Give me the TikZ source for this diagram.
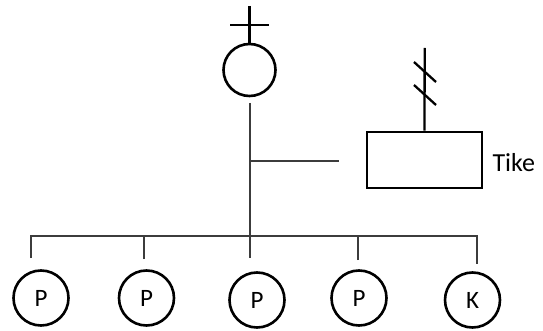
\documentclass[tikz,border=0pt]{standalone}
\usepackage{fontspec}
\setmainfont{Carlito}
\usetikzlibrary{positioning}
\definecolor{LineGray}{HTML}{3C3C3C}

\begin{document}
\begin{tikzpicture}[x=1pt, y=-1pt,
                    person/.style={draw, circle, line width=2.6pt, minimum size=55pt,
                                   inner sep=0pt, font=\fontsize{25}{25}\selectfont},
                    house/.style={draw, line width=2.6pt, minimum width=115pt,
                                  minimum height=56pt, inner sep=0pt},
                    mark line/.style={draw=black, line width=2.3pt},
                    tree line/.style={draw=LineGray, line width=2pt}]
  \useasboundingbox (0,0) rectangle (543,331);
  % mother with the cross on top
  \node[person, minimum size=52pt] (mother) at (249.5,70) {};
  \coordinate (crosstop) at (249.5,6);
  \coordinate (crossl) at (230,25);
  \coordinate (crossr) at (269,25);
  \draw[mark line] (crosstop) -- (mother.north);
  \draw[mark line] (crossl) -- (crossr);
  % household box with its slashed line
  \node[house] (tikebox) at (424.5,160) {};
  \node[right=9pt of tikebox.east, yshift=-3pt, inner sep=0pt,
        font=\fontsize{26}{26}\selectfont] (tikelbl) {Tike};
  \coordinate (boxtop) at (424.7,48);
  \draw[mark line] (boxtop) -- (tikebox.north);
  \coordinate (s1a) at (414,62);  \coordinate (s1b) at (436,82);
  \coordinate (s2a) at (414,85);  \coordinate (s2b) at (436,105);
  \draw[mark line] (s1a) -- (s1b);
  \draw[mark line] (s2a) -- (s2b);
  % children
  \node[person] (kid1) at (41,298) {P};
  \node[person] (kid2) at (146.5,298) {P};
  \node[person] (kid3) at (257,300) {P};
  \node[person] (kid4) at (359,298) {P};
  \node[person] (kid5) at (472.5,300) {K};
  % stem, side branch and sibling bar
  \coordinate (stemtop) at (249.5,103);
  \coordinate (stembot) at (249.5,258);
  \coordinate (side) at (249.5,161);
  \coordinate (sideend) at (339,161);
  \coordinate (bar) at (249.5,236);
  \draw[tree line] (stemtop) -- (stembot);
  \draw[tree line] (side) -- (sideend);
  \coordinate (d1) at (30.6,258);
  \coordinate (d2) at (144.3,259);
  \coordinate (d4) at (358,260);
  \coordinate (d5) at (476.5,263.5);
  \draw[tree line] (d1) |- (bar) -| (d5);
  \draw[tree line] (d2) -- (d2 |- bar);
  \draw[tree line] (d4) -- (d4 |- bar);
\end{tikzpicture}
\end{document}
